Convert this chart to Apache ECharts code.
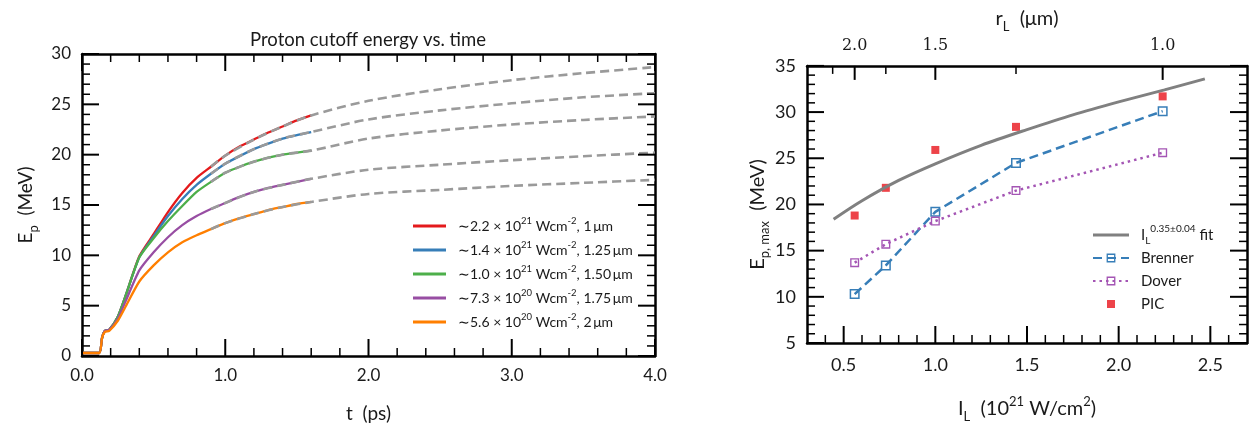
<!DOCTYPE html>
<html><head><meta charset="utf-8">
<script src="https://cdn.jsdelivr.net/npm/echarts@6/dist/echarts.min.js"></script>
<style>html,body{margin:0;padding:0;background:#fff}#c{width:1255px;height:432px;background:#fff}</style>
</head><body><div id="c"></div>
<script>
// ---------------- Left panel data (proton cutoff energy vs time) ----------------
const tSim = [0, 0.12, 0.14, 0.16, 0.19, 0.25, 0.3, 0.4, 0.5, 0.6, 0.7, 0.8, 0.9, 1.0, 1.1, 1.2, 1.3, 1.4, 1.5, 1.6];
const eSim22 = [0.3, 0.3, 1.8, 2.5, 2.6, 3.9, 5.8, 9.9, 12.1, 14.3, 16.2, 17.7, 18.8, 19.9, 20.8, 21.5, 22.2, 22.8, 23.4, 23.9];
const eSim14 = [0.3, 0.3, 1.8, 2.5, 2.6, 3.9, 5.8, 9.8, 11.9, 13.9, 15.6, 17.0, 18.1, 19.1, 19.85, 20.55, 21.1, 21.6, 21.95, 22.25];
const eSim10 = [0.3, 0.3, 1.8, 2.5, 2.6, 3.9, 5.8, 9.8, 11.7, 13.4, 14.9, 16.3, 17.3, 18.2, 18.8, 19.3, 19.7, 20.0, 20.2, 20.4];
const eSim73 = [0.3, 0.3, 1.8, 2.5, 2.6, 3.7, 5.3, 8.5, 10.3, 11.8, 13.0, 13.9, 14.6, 15.2, 15.8, 16.3, 16.7, 17.0, 17.3, 17.6];
const eSim56 = [0.3, 0.3, 1.8, 2.4, 2.5, 3.5, 4.8, 7.4, 9.0, 10.3, 11.3, 12.0, 12.6, 13.2, 13.7, 14.1, 14.5, 14.8, 15.1, 15.3];

const tFit = [0.9, 1.0, 1.2, 1.4, 1.6, 2.0, 2.5, 3.0, 3.5, 4.0];
const eFit22 = [18.8, 19.9, 21.5, 22.8, 23.9, 25.35, 26.5, 27.4, 28.1, 28.7];
const eFit14 = [18.1, 19.1, 20.55, 21.6, 22.25, 23.5, 24.4, 25.1, 25.7, 26.1];
const eFit10 = [17.3, 18.2, 19.3, 20.0, 20.4, 21.6, 22.4, 23.0, 23.45, 23.8];
const eFit73 = [14.6, 15.2, 16.3, 17.0, 17.6, 18.5, 19.0, 19.45, 19.85, 20.2];
const eFit56 = [12.6, 13.2, 14.1, 14.8, 15.3, 16.1, 16.5, 16.9, 17.2, 17.5];

const simIntensity = ['2.2', '1.4', '1.0', '7.3', '5.6'];
const simExponent = ['21', '21', '21', '20', '20'];
const simSpot = ['1', '1.25', '1.50', '1.75', '2'];
const simColors = ['#e41a1c', '#377eb8', '#4daf4a', '#984ea3', '#ff7f00'];

const leftXRange = [0, 4];
const leftYRange = [0, 30];
const leftXStep = [1, 0.2];     // major, minor tick steps (ps)
const leftYStep = [5, 1];       // major, minor tick steps (MeV)

// ---------------- Right panel data (max energy vs intensity) ----------------
const intensity = [0.56, 0.73, 1.00, 1.44, 2.24];
const ePIC = [18.8, 21.8, 25.9, 28.4, 31.7];
const eBrenner = [10.3, 13.4, 19.2, 24.5, 30.1];
const eDover = [13.7, 15.7, 18.2, 21.5, 25.6];
const fitI = [0.445, 0.6, 0.8, 1.0, 1.25, 1.5, 1.75, 2.0, 2.25, 2.47];
const fitE = [18.4, 20.4, 22.6, 24.4, 26.4, 28.1, 29.7, 31.1, 32.4, 33.6];

const rightXRange = [0.3, 2.7];
const rightYRange = [5, 35];
const iMajorTicks = [0.5, 1.0, 1.5, 2.0, 2.5];
const iMinorStep = 0.1;
const rightYStep = [5, 1];
const rLMajorPos = [0.56, 1.00, 2.24];
const rLMajorLabels = ['2.0', '1.5', '1.0'];
const rLMinorPos = [0.44, 0.73, 1.44];

// ---------------- helpers ----------------
const SANS = 'Lato';
const TXT = '#1a1a1a';
const zip = (xs, ys) => xs.map((x, i) => [x, ys[i]]);
const r4 = v => Math.round(v * 10000) / 10000;
const steps = (a, b, s) => { const out = []; for (let k = 0; a + k * s <= b + 1e-9; k++) out.push(r4(a + k * s)); return out; };
const without = (arr, ex) => arr.filter(v => !ex.some(e => Math.abs(e - v) < 1e-6));

const simE = [eSim22, eSim14, eSim10, eSim73, eSim56];
const fitEs = [eFit22, eFit14, eFit10, eFit73, eFit56];
const simNames = simIntensity.map((v, i) => `~${v}x10^${simExponent[i]} Wcm-2, ${simSpot[i]} um`);
const simRich = {};
simNames.forEach((n, i) => {
  simRich[n] = `\u223C${simIntensity[i]} \u00D7 10{sup|${simExponent[i]}} Wcm{sup|-2}, ${simSpot[i]}\u2009\u03BCm`;
});
const rightRich = {fit: 'I{sub|L}{sup|0.35\u00B10.04} fit', Brenner: 'Brenner', Dover: 'Dover', PIC: 'PIC'};
const ringPath = 'path://M0,0L10,0L10,10L0,10Z M1.5,1.5L1.5,8.5L8.5,8.5L8.5,1.5Z';
const fitIcon = 'path://M0,0L0.01,0L0,0.01Z M0,4L36,4L36,7L0,7Z M36,11L35.99,11L36,10.99Z';
const picIcon = 'path://M0,0L0.01,0L0,0.01Z M14,1.5L22,1.5L22,9.5L14,9.5Z M36,11L35.99,11L36,10.99Z';

const axisLine = () => ({show: true, onZero: false, lineStyle: {color: '#000', width: 2.5}});
const noTick = () => ({show: false});
const noSplit = () => ({show: false});
const tickFont = (s) => ({fontFamily: SANS, fontSize: s, color: TXT});
const sub = (s) => ({fontFamily: SANS, fontSize: s, lineHeight: s, verticalAlign: 'bottom', color: TXT});
const sup = (s) => ({fontFamily: SANS, fontSize: s, lineHeight: s, verticalAlign: 'top', color: TXT});

// tick specs: [value, side (0 bottom, 1 top, 2 left, 3 right), major (1) / minor (0)]
function tickSpecs(list, side, major) { return list.map(v => [v, side, major]); }
const leftXMaj = steps(leftXRange[0], leftXRange[1], leftXStep[0]);
const leftXMin = without(steps(leftXRange[0], leftXRange[1], leftXStep[1]), leftXMaj);
const leftYMaj = steps(leftYRange[0], leftYRange[1], leftYStep[0]);
const leftYMin = without(steps(leftYRange[0], leftYRange[1], leftYStep[1]), leftYMaj);
const leftTicks = [].concat(
  tickSpecs(leftXMaj, 0, 1), tickSpecs(leftXMin, 0, 0), tickSpecs(leftXMaj, 1, 1), tickSpecs(leftXMin, 1, 0),
  tickSpecs(leftYMaj, 2, 1), tickSpecs(leftYMin, 2, 0), tickSpecs(leftYMaj, 3, 1), tickSpecs(leftYMin, 3, 0));
const rightXMin = without(steps(rightXRange[0], rightXRange[1], iMinorStep), iMajorTicks.concat(rightXRange));
const rightYMaj = steps(rightYRange[0], rightYRange[1], rightYStep[0]);
const rightYMin = without(steps(rightYRange[0], rightYRange[1], rightYStep[1]), rightYMaj);
const rightTicks = [].concat(
  tickSpecs(iMajorTicks, 0, 1), tickSpecs(rightXMin, 0, 0), tickSpecs(rLMajorPos, 1, 1), tickSpecs(rLMinorPos, 1, 0),
  tickSpecs(rightYMaj, 2, 1), tickSpecs(rightYMin, 2, 0), tickSpecs(rightYMaj, 3, 1), tickSpecs(rightYMin, 3, 0));

function tickSeries(xIdx, yIdx, xr, yr, specs, topMajorLen) {
  return {
    type: 'custom', xAxisIndex: xIdx, yAxisIndex: yIdx, silent: true, clip: false, z: 6,
    data: specs,
    renderItem: (params, api) => {
      const v = api.value(0), side = api.value(1), major = api.value(2);
      const len = major ? (side === 1 ? topMajorLen : 17) : 8;
      const w = major ? 2 : 1.5;
      let p, d;
      if (side === 0) { p = api.coord([v, yr[0]]); d = [0, -len]; }
      else if (side === 1) { p = api.coord([v, yr[1]]); d = [0, len]; }
      else if (side === 2) { p = api.coord([xr[0], v]); d = [len, 0]; }
      else { p = api.coord([xr[1], v]); d = [-len, 0]; }
      return {type: 'line', shape: {x1: p[0], y1: p[1], x2: p[0] + d[0], y2: p[1] + d[1]},
        style: {stroke: '#000', lineWidth: w}};
    }
  };
}

const series = [];
simE.forEach((arr, i) => series.push({
  name: simNames[i], type: 'line', xAxisIndex: 0, yAxisIndex: 0, data: zip(tSim, arr), symbol: 'none', smooth: 0.2,
  lineStyle: {color: simColors[i], width: 2.3}, itemStyle: {color: simColors[i]}
}));
fitEs.forEach((arr, i) => series.push({
  name: 'fit' + i, type: 'line', xAxisIndex: 0, yAxisIndex: 0, data: zip(tFit, arr), symbol: 'none', smooth: 0.3,
  lineStyle: {color: '#9a9a9a', width: 2.6, type: [9, 5]}
}));
series.push({name: 'fit', type: 'line', xAxisIndex: 2, yAxisIndex: 2, data: zip(fitI, fitE), symbol: 'none', smooth: 0.3,
  lineStyle: {color: '#808080', width: 3}, itemStyle: {color: '#808080'}});
series.push({name: 'Brenner', type: 'line', xAxisIndex: 2, yAxisIndex: 2, data: zip(intensity, eBrenner),
  symbol: ringPath, symbolSize: 10, lineStyle: {color: '#377eb8', width: 2.5, type: [9, 5]}, itemStyle: {color: '#377eb8'}});
series.push({name: 'Dover', type: 'line', xAxisIndex: 2, yAxisIndex: 2, data: zip(intensity, eDover),
  symbol: ringPath, symbolSize: 9, lineStyle: {color: '#a455b4', width: 2.5, type: [2.5, 4]}, itemStyle: {color: '#a455b4'}});
series.push({name: 'PIC', type: 'scatter', xAxisIndex: 2, yAxisIndex: 2, data: zip(intensity, ePIC),
  symbol: 'rect', symbolSize: 8, itemStyle: {color: '#e8141c'}});
series.push(tickSeries(0, 0, leftXRange, leftYRange, leftTicks, 17));
series.push(tickSeries(2, 2, rightXRange, rightYRange, rightTicks, 14));

const option = {
  animation: false,
  title: {text: 'Proton cutoff energy vs. time', left: 368, top: 31, textAlign: 'center', padding: 0,
    textStyle: {fontFamily: SANS, fontSize: 18.5, fontWeight: 'normal', color: TXT}},
  grid: [{left: 82, top: 54, width: 573, height: 302}, {left: 807, top: 61, width: 440, height: 282}],
  legend: [
    {data: simNames, orient: 'vertical', left: 413, top: 216, padding: 0, itemWidth: 33, itemHeight: 3, itemGap: 4,
      icon: 'rect', selectedMode: false, formatter: n => simRich[n],
      textStyle: {fontFamily: SANS, fontSize: 14, lineHeight: 20, color: TXT, padding: [0, 0, 0, 7], rich: {sup: sup(9.5)}}},
    {data: [{name: 'fit', icon: fitIcon}, 'Brenner', 'Dover', {name: 'PIC', icon: picIcon}],
      orient: 'vertical', left: 1092, top: 224, padding: 0, itemWidth: 36, itemHeight: 11, itemGap: 1,
      selectedMode: false, formatter: n => rightRich[n],
      textStyle: {fontFamily: SANS, fontSize: 15, lineHeight: 22, color: TXT, padding: [0, 0, 0, 7],
        rich: {sup: sup(10), sub: sub(10)}}}
  ],
  xAxis: [
    {type: 'value', gridIndex: 0, position: 'bottom', min: leftXRange[0], max: leftXRange[1], interval: leftXStep[0],
      axisLine: axisLine(), axisTick: noTick(), minorTick: noTick(), splitLine: noSplit(),
      axisLabel: Object.assign({margin: 11, formatter: v => v.toFixed(1)}, tickFont(17)),
      name: 't  (ps)', nameLocation: 'middle', nameGap: 45,
      nameTextStyle: {fontFamily: SANS, fontSize: 19, color: TXT, lineHeight: 26}},
    {type: 'value', gridIndex: 0, position: 'top', min: leftXRange[0], max: leftXRange[1], interval: leftXStep[0],
      axisLine: axisLine(), axisTick: noTick(), splitLine: noSplit(), axisLabel: {show: false}},
    {type: 'value', gridIndex: 1, position: 'bottom', min: rightXRange[0], max: rightXRange[1], interval: iMinorStep,
      axisLine: axisLine(), axisTick: noTick(), splitLine: noSplit(), axisLabel: {show: false},
      name: 'I{sub|L}  (10{sup|21} W/cm{sup|2})', nameLocation: 'middle', nameGap: 52,
      nameTextStyle: {fontFamily: SANS, fontSize: 20, color: TXT, lineHeight: 28, rich: {sup: sup(13), sub: sub(13)}}},
    {type: 'value', gridIndex: 1, position: 'bottom', min: rightXRange[0], max: rightXRange[1], axisLine: {show: false},
      axisTick: noTick(), splitLine: noSplit(),
      axisLabel: Object.assign({margin: 13, customValues: iMajorTicks, formatter: v => v.toFixed(1)}, tickFont(18))},
    {type: 'value', gridIndex: 1, position: 'top', min: rightXRange[0], max: rightXRange[1], axisLine: axisLine(),
      axisTick: noTick(), splitLine: noSplit(),
      axisLabel: {margin: 12, customValues: rLMajorPos, fontFamily: 'DejaVu Serif', fontSize: 16, color: TXT,
        formatter: v => { const k = rLMajorPos.findIndex(p => Math.abs(p - v) < 1e-6); return k >= 0 ? rLMajorLabels[k] : ''; }},
      name: 'r{sub|L}  (\u03BCm)', nameLocation: 'middle', nameGap: 31,
      nameTextStyle: {fontFamily: SANS, fontSize: 20, color: TXT, lineHeight: 28, rich: {sub: sub(13)}}}
  ],
  yAxis: [
    {type: 'value', gridIndex: 0, position: 'left', min: leftYRange[0], max: leftYRange[1], interval: leftYStep[0],
      axisLine: axisLine(), axisTick: noTick(), minorTick: noTick(), splitLine: noSplit(),
      axisLabel: Object.assign({margin: 11}, tickFont(17)),
      name: 'E{sub|p}  (MeV)', nameLocation: 'middle', nameGap: 42, nameRotate: 90,
      nameTextStyle: {fontFamily: SANS, fontSize: 19, color: TXT, lineHeight: 28, rich: {sub: sub(13)}}},
    {type: 'value', gridIndex: 0, position: 'right', min: leftYRange[0], max: leftYRange[1], interval: leftYStep[0],
      axisLine: axisLine(), axisTick: noTick(), splitLine: noSplit(), axisLabel: {show: false}},
    {type: 'value', gridIndex: 1, position: 'left', min: rightYRange[0], max: rightYRange[1], interval: rightYStep[0],
      axisLine: axisLine(), axisTick: noTick(), minorTick: noTick(), splitLine: noSplit(),
      axisLabel: Object.assign({margin: 11}, tickFont(18)),
      name: 'E{sub|p, max}  (MeV)', nameLocation: 'middle', nameGap: 30, nameRotate: 90,
      nameTextStyle: {fontFamily: SANS, fontSize: 20, color: TXT, lineHeight: 28, padding: [0, 20, 0, 0], rich: {sub: sub(13)}}},
    {type: 'value', gridIndex: 1, position: 'right', min: rightYRange[0], max: rightYRange[1], interval: rightYStep[0],
      axisLine: axisLine(), axisTick: noTick(), splitLine: noSplit(), axisLabel: {show: false}}
  ],
  series: series
};

const chart = echarts.init(document.getElementById('c'));
chart.setOption(option);
</script>
</body></html>
